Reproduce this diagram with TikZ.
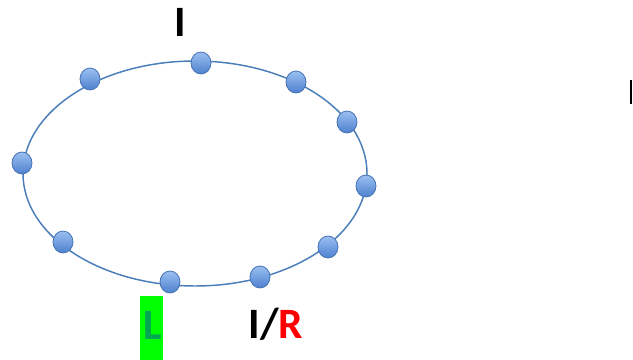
\documentclass[tikz,border=0pt]{standalone}
\usepackage{fontspec}
\setmainfont{Carlito}
\usepackage{xcolor}
\usepackage{tikz}
\usetikzlibrary{shapes.geometric}

\definecolor{ringblue}{RGB}{74,126,187}
\definecolor{dotlight}{RGB}{155,192,242}
\definecolor{dotdark}{RGB}{78,128,206}
\definecolor{dotedge}{RGB}{68,114,178}
\definecolor{hlgreen}{RGB}{0,255,0}
\definecolor{lgreen}{RGB}{0,166,82}

\tikzset{
  site/.style={ellipse, inner sep=0, minimum width=15pt, minimum height=16.5pt,
    draw=dotedge, line width=0.6pt, top color=dotlight, bottom color=dotdark},
  biglabel/.style={font=\bfseries\fontsize{32.5}{34}\selectfont, inner sep=0}
}

\begin{document}
\begin{tikzpicture}[x=0.75pt, y=-0.75pt, line width=1.1pt]
        \useasboundingbox (0,0) rectangle (633,360);
        % Ring
        \draw[ringblue] (195,173.5) ellipse [x radius=172, y radius=112.5];
        % Sites on the ring
        \foreach \name/\px/\py in {d1/201/63, d2/296/82, d3/347/122, d4/366/186, d5/328/247,
                                    d6/260/277, d7/170/282, d8/63/242, d9/22/163, d10/90/79}
            \node[site] (\name) at (\px,\py) {};
        % Labels
        \node[biglabel] (top) at (180,22.5) {I};
        \fill[hlgreen] (140,296) rectangle (163,360);
        \node[biglabel, anchor=base, text=lgreen] (lbl) at (153,339.5) {L};
        \node[biglabel, anchor=base] (ratio) at (276,338) {I/\textcolor{red}{R}};
        % Edge mark
        \coordinate (edgetop) at (631,80);
        \coordinate (edgebot) at (631,104);
        \draw[black, line width=1.2pt] (edgetop) -- (edgebot);
    \end{tikzpicture}
\end{document}
